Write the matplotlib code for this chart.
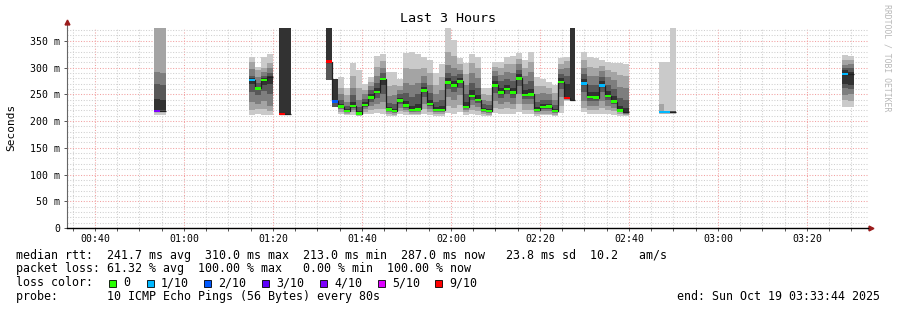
import numpy as np
import matplotlib
matplotlib.use("Agg")
import matplotlib.pyplot as plt
from matplotlib.patches import Rectangle
from matplotlib.ticker import FixedLocator, FuncFormatter

nan = float("nan")

# ---------------------------------------------------------------- data
# 80-second RRD slots (slot k starts k*80 s after midnight)
slot = [40, 41,
        56, 57, 58, 59,
        61, 62,
        69, 70, 71, 72, 73, 74, 75, 76, 77, 78, 79, 80, 81, 82, 83, 84, 85, 86, 87, 88, 89,
        90, 91, 92, 93, 94, 95, 96, 97, 98, 99, 100, 101, 102, 103, 104, 105, 106, 107, 108, 109, 110,
        112, 113, 114, 115, 116, 117, 118, 119,
        125, 126, 127,
        156, 157]

# median rtt (ms)
median = [219, 219,
          277, 261, 277, 282,
          213, 213,
          311, 237, 227, 219, 228, 214, 230, 244, 254, 279, 222, 219, 238, 229, 221, 222, 257, 232, 221, 221, 272,
          266, 274, 226, 247, 239, 221, 219, 267, 253, 260, 253, 280, 249, 250, 221, 226, 227, 219, 273, 243, 240,
          270, 245, 244, 266, 247, 236, 220, 217,
          217, 217, 217,
          288, 288]

# lost pings out of 10
loss = [4, 4,
        1, 0, 0, 0,
        9, 9,
        9, 2, 0, 0, 0, 0, 0, 0, 0, 0, 0, 0, 0, 0, 0, 0, 0, 0, 0, 0, 0,
        0, 0, 0, 0, 0, 0, 0, 0, 0, 0, 0, 0, 0, 0, 0, 0, 0, 0, 0, 9, 9,
        1, 0, 0, 1, 0, 0, 0, 0,
        1, 1, 1,
        1, 1]

# sorted ping rtts (ms) ping1..ping10 ; 400 = above the graph, nan = unknown
ping1 = [211, 212,
         212, 214, 211, 211,
         nan, nan,
         nan, nan, 213, 211, 212, 209, 213, 214, 215, 213, 210, 210, 213, 212, 211, 211, 214, 212, 210, 210, 215,
         214, 216, 212, 213, 212, 210, 210, 215, 214, 214, 213, 216, 213, 213, 210, 211, 211, 210, 215, 238, nan,
         216, 214, 213, 214, 213, 212, 210, 210,
         213, 214, 214,
         227, 226]
ping2 = [218, 218,
         220, 222, 222, 218,
         nan, nan,
         nan, nan, 217, 214, 216, 211, 217, 220, 222, 222, 213, 212, 218, 216, 214, 214, 222, 217, 213, 213, 228,
         225, 230, 216, 220, 218, 213, 212, 225, 222, 224, 222, 232, 221, 221, 213, 214, 214, 212, 228, 240, nan,
         224, 220, 220, 224, 220, 218, 213, 212,
         215, 215, 215,
         240, 238]
ping3 = [219, 219,
         235, 232, 238, 228,
         nan, nan,
         nan, nan, 222, 216, 220, 212, 222, 228, 232, 235, 216, 215, 225, 220, 217, 217, 232, 222, 216, 216, 245,
         240, 248, 220, 230, 226, 216, 215, 238, 232, 236, 232, 250, 231, 231, 216, 218, 218, 215, 245, 241, nan,
         238, 228, 228, 238, 229, 225, 216, 214,
         216, 216, 216,
         249, 250]
ping4 = [219, 219,
         255, 248, 256, 250,
         nan, nan,
         277, 226, 225, 218, 225, 213, 227, 236, 244, 250, 219, 217, 232, 225, 219, 220, 245, 228, 219, 219, 260,
         255, 262, 224, 240, 234, 219, 217, 252, 244, 250, 244, 266, 241, 242, 219, 222, 223, 217, 260, 242, nan,
         255, 238, 237, 254, 239, 231, 218, 216,
         216, 216, 216,
         261, 260]
ping5 = [220, 221,
         270, 258, 268, 270,
         213, 213,
         311, 237, 227, 219, 228, 214, 230, 244, 254, 268, 222, 219, 238, 229, 221, 222, 257, 232, 221, 221, 272,
         266, 274, 226, 247, 239, 221, 219, 267, 253, 260, 253, 280, 249, 250, 221, 226, 227, 219, 273, 243, 240,
         270, 245, 244, 266, 247, 236, 220, 217,
         217, 217, 217,
         270, 268]
ping6 = [241, 240,
         280, 264, 280, 284,
         400, 400,
         400, 278, 232, 222, 236, 218, 235, 250, 262, 281, 226, 223, 244, 238, 228, 232, 264, 240, 226, 228, 280,
         274, 280, 236, 258, 248, 225, 223, 275, 262, 268, 262, 288, 258, 260, 226, 232, 232, 223, 280, 270, 400,
         278, 255, 254, 274, 256, 246, 228, 224,
         218, 217, 217,
         295, 292]
ping7 = [270, 268,
         285, 272, 285, 290,
         nan, nan,
         400, 278, 240, 228, 248, 226, 242, 258, 272, 290, 234, 232, 250, 252, 245, 250, 272, 252, 236, 240, 290,
         285, 288, 250, 272, 262, 232, 230, 284, 274, 279, 275, 296, 270, 274, 236, 240, 240, 230, 288, 285, nan,
         288, 268, 268, 283, 268, 260, 244, 240,
         219, 218, 218,
         300, 299]
ping8 = [292, 290,
         298, 282, 292, 300,
         nan, nan,
         nan, nan, 250, 236, 262, 240, 250, 265, 285, 300, 246, 248, 258, 272, 268, 272, 285, 268, 250, 258, 305,
         300, 296, 268, 290, 280, 240, 238, 293, 287, 292, 290, 306, 284, 292, 250, 252, 250, 240, 297, 300, nan,
         300, 285, 284, 293, 282, 276, 264, 262,
         219, 218, 218,
         305, 306]
ping9 = [400, 400,
         310, 295, 300, 308,
         nan, nan,
         nan, nan, 262, 248, 285, 262, 258, 273, 302, 312, 265, 268, 266, 300, 298, 298, 300, 290, 268, 282, 330,
         322, 306, 288, 308, 300, 250, 248, 302, 300, 306, 306, 316, 299, 310, 266, 265, 261, 252, 307, 312, nan,
         315, 302, 300, 303, 296, 292, 286, 285,
         232, 219, 219,
         314, 315]
ping10 = [400, 400,
          320, 302, 320, 325,
          nan, nan,
          nan, nan, 283, 261, 309, 295, 269, 282, 321, 325, 291, 291, 278, 328, 330, 326, 320, 314, 289, 307, 400,
          351, 317, 308, 326, 320, 261, 261, 311, 311, 320, 322, 327, 315, 330, 283, 278, 273, 267, 317, 320, nan,
          330, 320, 317, 314, 311, 309, 308, 307,
          311, 311, 400,
          323, 322]

loss_labels = ["0", "1/10", "2/10", "3/10", "4/10", "5/10", "9/10"]
loss_limits = [0, 1, 2, 3, 4, 5, 10]
loss_colors = ["#26ff00", "#00b8ff", "#0059ff", "#5e00ff", "#7e00ff", "#dd00ff", "#ff0000"]

y_ticks = [0, 50, 100, 150, 200, 250, 300, 350]
x_ticks = ["00:40", "01:00", "01:20", "01:40", "02:00", "02:20", "02:40", "03:00", "03:20"]

title = "Last 3 Hours"
y_label = "Seconds"
stats_rtt = "median rtt:  241.7 ms avg  310.0 ms max  213.0 ms min  287.0 ms now   23.8 ms sd  10.2   am/s"
stats_loss = "packet loss: 61.32 % avg  100.00 % max   0.00 % min  100.00 % now"
probe_text = "probe:       10 ICMP Echo Pings (56 Bytes) every 80s"
end_text = "end: Sun Oct 19 03:33:44 2025"
watermark = "RRDTOOL / TOBI OETIKER"

# ---------------------------------------------------------------- figure
W, H = 897, 310
MONO = "DejaVu Sans Mono"
fig = plt.figure(figsize=(W / 100, H / 100), dpi=100)
fig.patch.set_facecolor("white")
ax = fig.add_axes([67 / W, (H - 228) / H, (868 - 67) / W, (228 - 28) / H])
ax.set_facecolor("white")

ymax = 374
xstart = 33 + 44 / 60
ax.set_xlim(xstart, xstart + 180)
ax.set_ylim(0, ymax)

step_min = 80 / 60
left = np.array(slot) * step_min
P = np.array([ping1, ping2, ping3, ping4, ping5, ping6, ping7, ping8, ping9, ping10], dtype=float).T

# smoke: pair (i, 11-i), lighter outside, darker inside
for i in range(5):
    lo = P[:, i]
    hi = np.minimum(P[:, 9 - i], ymax + 5)
    ok = np.isfinite(lo) & np.isfinite(hi)
    g = int(190 / 5 * (5 - (i + 1))) + 50
    col = "#%02x%02x%02x" % (g, g, g)
    ax.bar(left[ok], (hi - lo)[ok], width=step_min, bottom=lo[ok], align="edge",
           color=col, linewidth=0, antialiased=False, zorder=2)

# median black step line, one run per contiguous block of slots
med = np.array(median, dtype=float)
slots = np.array(slot)
runs = np.split(np.arange(len(slots)), np.where(np.diff(slots) != 1)[0] + 1)
for r in runs:
    edges = np.append(left[r], left[r[-1]] + step_min)
    ax.stairs(med[r], edges, baseline=None, color="#202020", linewidth=0.9, zorder=3)

# coloured median marks by loss
hh = 2.6 * ymax / 200
slot_set = set(slot)
for k in range(len(slot)):
    if slot[k] + 1 not in slot_set:
        continue
    ci = next(n for n, lim in enumerate(loss_limits) if loss[k] <= lim)
    ax.bar(left[k], hh, width=step_min, bottom=med[k] - hh / 2, align="edge",
           color=loss_colors[ci], linewidth=0, antialiased=False, zorder=4)

# grid / ticks
ax.yaxis.set_major_locator(FixedLocator(y_ticks))
ax.yaxis.set_minor_locator(FixedLocator(np.arange(0, ymax, 10)))
ax.yaxis.set_major_formatter(FuncFormatter(lambda v, p: "0" if v == 0 else "%d m" % v))
xt = [int(s[:2]) * 60 + int(s[3:]) for s in x_ticks]
ax.xaxis.set_major_locator(FixedLocator(xt))
ax.xaxis.set_minor_locator(FixedLocator(np.arange(35, 215, 5)))
ax.set_xticklabels(x_ticks)
ax.set_axisbelow(True)
ax.grid(which="minor", color="#cfcfcf", linewidth=0.75, linestyle=(0, (1, 1.6)))
ax.grid(which="major", color="#f2a0a0", linewidth=0.75, linestyle=(0, (1, 1.6)))
ax.tick_params(which="both", direction="out", length=2, width=0.7, color="#555555",
               labelsize=7.1, pad=3)
ax.tick_params(axis="y", which="minor", length=0)
ax.tick_params(axis="x", which="major", pad=2.5)
for lab in ax.get_xticklabels() + ax.get_yticklabels():
    lab.set_family(MONO)

for s in ("top", "right"):
    ax.spines[s].set_visible(False)
ax.spines["left"].set_color("#666666")
ax.spines["left"].set_linewidth(0.8)
ax.spines["bottom"].set_color("black")
ax.spines["bottom"].set_linewidth(1.0)

# axis arrows
ax.plot([0, 0], [1, 1.025], transform=ax.transAxes, color="#666666", lw=0.8, clip_on=False)
ax.plot(0, 1.03, marker="^", ms=3.5, color="#9b1c1c", transform=ax.transAxes, clip_on=False)
ax.plot([1, 1.003], [0, 0], transform=ax.transAxes, color="black", lw=1.0, clip_on=False)
ax.plot(1.004, 0, marker=">", ms=3.5, color="#9b1c1c", transform=ax.transAxes, clip_on=False)

# texts
fig.text(448 / W, 1 - 19 / H, title, ha="center", va="center", family=MONO, fontsize=9.6)
fig.text(11 / W, 1 - 127 / H, y_label, ha="center", va="center", rotation=90, family=MONO, fontsize=8)
fig.text(887 / W, 1 - 4 / H, watermark, ha="center", va="top", rotation=270, family=MONO,
         fontsize=5.9, color="#b8b8b8")

LS = 8.35
fig.text(16 / W, 1 - 255 / H, stats_rtt, ha="left", va="center", family=MONO, fontsize=LS)
fig.text(16 / W, 1 - 268.5 / H, stats_loss, ha="left", va="center", family=MONO, fontsize=LS)
fig.text(16 / W, 1 - 282.5 / H, "loss color:", ha="left", va="center", family=MONO, fontsize=LS)
box_x = [109, 147, 204, 262, 320, 378, 435]
for bx, lab, c in zip(box_x, loss_labels, loss_colors):
    fig.patches.append(Rectangle((bx / W, 1 - 286.5 / H), 7 / W, 7 / H, transform=fig.transFigure,
                                 facecolor=c, edgecolor="black", linewidth=0.6))
    fig.text((bx + 14) / W, 1 - 282.5 / H, lab, ha="left", va="center", family=MONO, fontsize=LS)
fig.text(16 / W, 1 - 296.7 / H, probe_text, ha="left", va="center", family=MONO, fontsize=LS)
fig.text(880 / W, 1 - 296.7 / H, end_text, ha="right", va="center", family=MONO, fontsize=LS)

fig.savefig("out.png", dpi=100, facecolor="white")
